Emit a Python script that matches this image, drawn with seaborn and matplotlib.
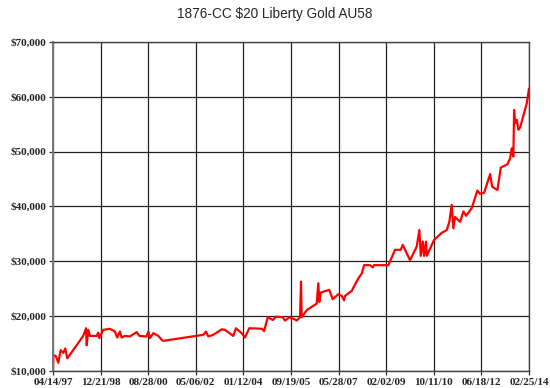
import pandas as pd
import seaborn as sns
import matplotlib
matplotlib.use('Agg')
import matplotlib.pyplot as plt
import matplotlib.ticker as mticker

# price history
dates = ['1997-04-14', '1997-04-18', '1997-05-22', '1997-06-21', '1997-07-22', '1997-08-25',
         '1997-09-20', '1997-10-16', '1998-05-10', '1998-06-15', '1998-06-24', '1998-07-14',
         '1998-08-05', '1998-10-31', '1998-11-21', '1998-12-03', '1999-01-24', '1999-04-21',
         '1999-06-24', '1999-07-24', '1999-08-28', '1999-09-19', '1999-11-01', '2000-01-05',
         '2000-04-01', '2000-05-05', '2000-08-08', '2000-08-29', '2000-09-20', '2000-11-02',
         '2001-01-06', '2001-02-19', '2001-03-11', '2002-08-11', '2002-09-15', '2002-10-15',
         '2002-12-18', '2003-04-07', '2003-05-19', '2003-09-03', '2003-10-08', '2003-12-20',
         '2004-02-01', '2004-03-28', '2004-09-06', '2004-10-06', '2004-11-23', '2005-01-26',
         '2005-03-10', '2005-06-05', '2005-07-04', '2005-08-29', '2005-11-10', '2005-12-02',
         '2006-01-14', '2006-01-27', '2006-02-05', '2006-04-11', '2006-08-18', '2006-09-08',
         '2006-09-21', '2006-10-09', '2007-01-28', '2007-03-13', '2007-05-25', '2007-07-08',
         '2007-08-07', '2007-08-20', '2007-11-14', '2008-02-08', '2008-03-24', '2008-04-23',
         '2008-07-09', '2008-08-13', '2008-08-30', '2009-03-03', '2009-05-28', '2009-08-10',
         '2009-09-05', '2009-12-08', '2010-03-05', '2010-04-08', '2010-04-26', '2010-05-22',
         '2010-06-08', '2010-07-03', '2010-07-13', '2010-10-15', '2011-01-23', '2011-03-29',
         '2011-05-01', '2011-06-01', '2011-06-22', '2011-07-14', '2011-09-17', '2011-10-30',
         '2011-12-04', '2012-02-15', '2012-04-28', '2012-06-02', '2012-07-24', '2012-10-10',
         '2012-11-05', '2013-01-12', '2013-02-25', '2013-05-22', '2013-06-26', '2013-07-17',
         '2013-08-07', '2013-08-16', '2013-08-29', '2013-09-20', '2013-10-11', '2013-11-02',
         '2014-01-27', '2014-02-25']
prices = [10100, 12900, 12700, 11500, 13800, 13300,
          14100, 12300, 16400, 17800, 14700, 17500,
          16400, 16400, 17000, 16000, 17500, 17700,
          17200, 16100, 17200, 16100, 16400, 16300,
          17100, 16400, 16300, 17200, 16000, 16900,
          16400, 15700, 15500, 16600, 17200, 16300,
          16600, 17600, 17500, 16400, 17800, 16900,
          16100, 17800, 17700, 17300, 19800, 19300,
          19900, 19800, 19200, 19800, 19400, 19200,
          19800, 26300, 19800, 21100, 22300, 26000,
          22600, 24300, 24800, 23100, 24000, 23700,
          22900, 23700, 24600, 26900, 27800, 29300,
          29300, 28900, 29300, 29300, 32100, 32100,
          33000, 30200, 32700, 35700, 31000, 33600,
          31000, 33600, 31000, 33900, 35200, 35700,
          37200, 40300, 36000, 38100, 37200, 39100,
          38300, 39700, 42900, 42300, 42500, 45900,
          43600, 43000, 47100, 47700, 48800, 50600,
          49100, 57600, 55200, 55800, 54000, 54400,
          58800, 61500]

tick_labels = ['04/14/97', '12/21/98', '08/28/00', '05/06/02', '01/12/04', '09/19/05',
               '05/28/07', '02/02/09', '10/11/10', '06/18/12', '02/25/14']
y_ticks = [10000, 20000, 30000, 40000, 50000, 60000, 70000]

df = pd.DataFrame({'date': pd.to_datetime(dates), 'price': prices})
tick_dates = pd.to_datetime(tick_labels, format='%m/%d/%y')

sns.set_style('white')
plt.rcParams['font.family'] = ['Liberation Sans', 'DejaVu Sans']

fig = plt.figure(figsize=(5.5, 3.88), dpi=100)
ax = fig.add_axes([0.0964, 0.0438, 0.8654, 0.848])

sns.lineplot(data=df, x='date', y='price', color='#ff0000', linewidth=1.6,
             estimator=None, sort=False, ax=ax)

ax.set_xlim(tick_dates[0], tick_dates[-1])
ax.set_ylim(10000, 70000)
ax.set_xticks(tick_dates)
ax.set_xticklabels(tick_labels)
ax.set_yticks(y_ticks)
ax.yaxis.set_major_formatter(mticker.FuncFormatter(lambda v, p: f'${v:,.0f}'))

ax.grid(True, color='#222222', linewidth=0.9)
for s in ax.spines.values():
    s.set_color('#444444')
    s.set_linewidth(1.0)
ax.spines['left'].set_color('#777777')
ax.spines['left'].set_linewidth(1.4)
ax.tick_params(axis='both', which='major', length=3, width=0.9, color='#333333',
               labelsize=8, pad=2, bottom=True, left=True)
for lab in ax.get_xticklabels() + ax.get_yticklabels():
    lab.set_fontweight('bold')
    lab.set_family(['Liberation Serif', 'DejaVu Serif'])
ax.set_xlabel('')
ax.set_ylabel('')

fig.text(0.5, 0.965, '1876-CC $20 Liberty Gold AU58', ha='center', va='center', fontsize=9.8)

fig.savefig('out.png', dpi=100)
